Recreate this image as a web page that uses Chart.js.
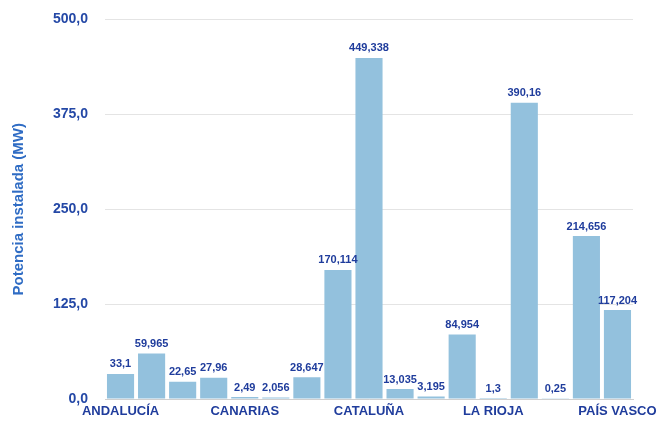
<!DOCTYPE html>
<html>
<head>
<meta charset="utf-8">
<script src="https://cdn.jsdelivr.net/npm/chart.js@4"></script>
<style>
  html, body { margin: 0; padding: 0; background: #fff; }
  #wrap { width: 661px; height: 423px; position: relative; }
</style>
</head>
<body>
<div id="wrap"><canvas id="c"></canvas></div>
<script>
const regions = ["ANDALUCÍA", "ARAGÓN", "ASTURIAS", "BALEARES", "CANARIAS", "CANTABRIA",
    "CASTILLA Y LEÓN", "CASTILLA-LA MANCHA", "CATALUÑA", "C. VALENCIANA", "EXTREMADURA",
    "GALICIA", "LA RIOJA", "MADRID", "MURCIA", "NAVARRA", "PAÍS VASCO"];
const potencia = [33.1, 59.965, 22.65, 27.96, 2.49, 2.056, 28.647, 170.114, 449.338,
    13.035, 3.195, 84.954, 1.3, 390.16, 0.25, 214.656, 117.204];
const yTicks = [0, 125, 250, 375, 500];

const navy = "#1f3c9c";
const fmt = (v) => String(v).replace(".", ",");

// value on top of each bar
const valueLabels = {
    id: "valueLabels",
    afterDatasetsDraw(chart) {
        const ctx = chart.ctx;
        const meta = chart.getDatasetMeta(0);
        ctx.save();
        ctx.font = "bold 11px 'Liberation Sans Narrow', 'Liberation Sans', Arial, sans-serif";
        ctx.fillStyle = navy;
        ctx.textAlign = "center";
        ctx.textBaseline = "bottom";
        meta.data.forEach((bar, i) => {
            ctx.fillText(fmt(potencia[i]), bar.x, bar.y - 4);
        });
        ctx.restore();
    }
};

new Chart(document.getElementById("c"), {
    type: "bar",
    data: {
        labels: regions,
        datasets: [{
            data: potencia,
            backgroundColor: "#93c1dd",
            barPercentage: 0.9,
            categoryPercentage: 0.97
        }]
    },
    options: {
        responsive: true,
        maintainAspectRatio: false,
        animation: false,
        layout: { padding: { top: 19.5, right: 28, left: 0, bottom: 0 } },
        plugins: { legend: { display: false }, tooltip: { enabled: false } },
        scales: {
            x: {
                grid: { display: false, drawTicks: false },
                border: { display: true, color: "#cfcfcf" },
                ticks: {
                    autoSkip: false,
                    maxRotation: 0,
                    padding: 5,
                    color: navy,
                    font: { family: "'Liberation Sans', Arial, sans-serif", weight: "bold", size: 13 },
                    callback: (v, i) => (i % 4 === 0 ? regions[i] : "")
                },
                afterFit: (s) => { s.height = 24; s.paddingLeft = 0; s.paddingRight = 0; }
            },
            y: {
                min: 0,
                max: 500,
                afterBuildTicks: (s) => { s.ticks = yTicks.map(v => ({ value: v })); },
                grid: { color: "#e4e4e4", drawTicks: false },
                border: { display: false },
                ticks: {
                    padding: 17,
                    color: "#2448a6",
                    font: { family: "'Liberation Sans', Arial, sans-serif", weight: "bold", size: 14 },
                    callback: (v) => v.toFixed(1).replace(".", ",")
                },
                title: {
                    display: true,
                    text: "Potencia instalada (MW)",
                    color: "#2f6cc4",
                    padding: { top: 10, bottom: 4 },
                    font: { family: "'Liberation Sans', Arial, sans-serif", weight: "bold", size: 15 }
                },
                afterFit: (s) => { s.width = 105; s.paddingTop = 0; s.paddingBottom = 0; }
            }
        }
    },
    plugins: [valueLabels]
});
</script>
</body>
</html>
